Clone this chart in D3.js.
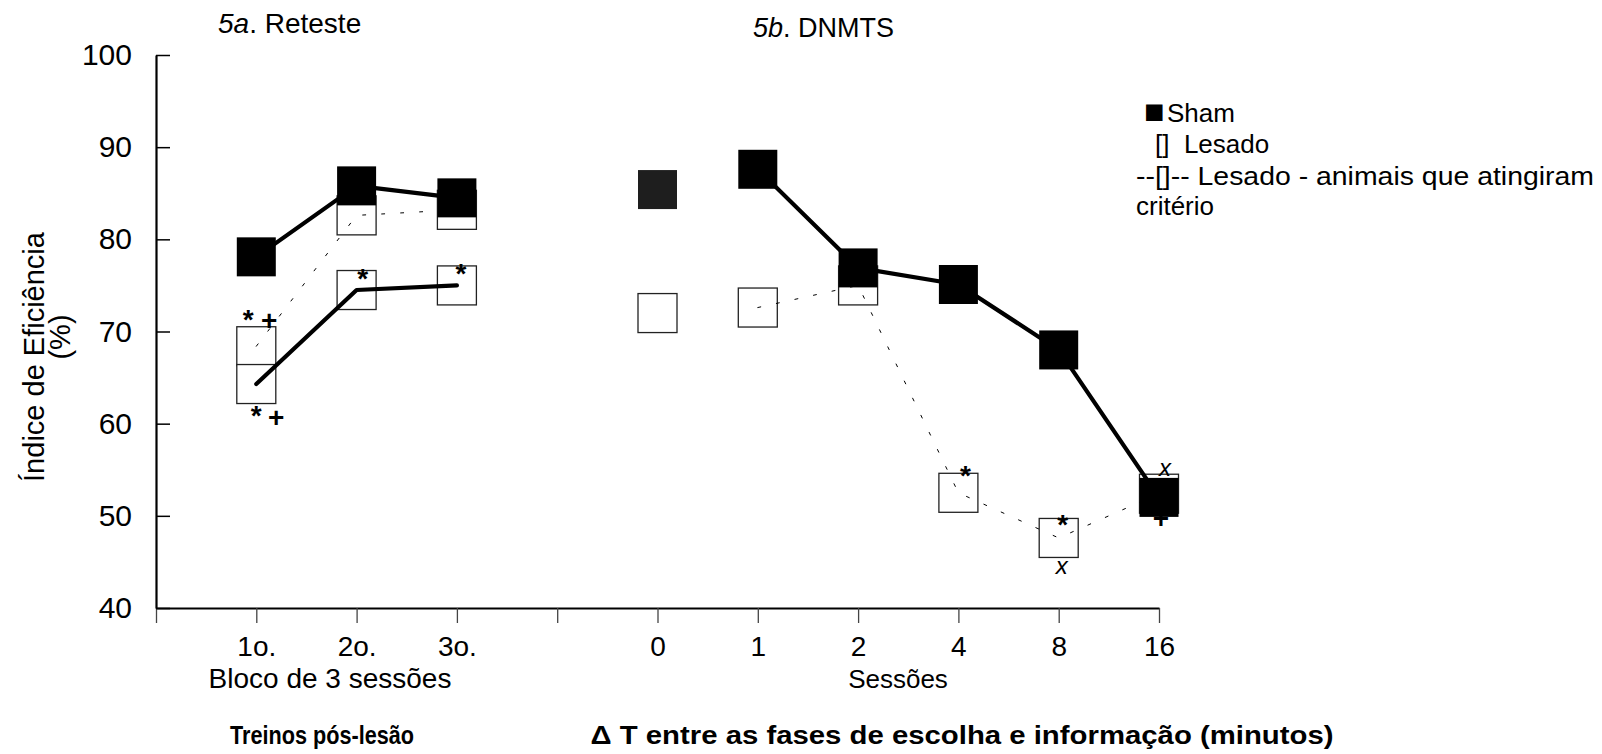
<!DOCTYPE html>
<html>
<head>
<meta charset="utf-8">
<script src="https://cdn.jsdelivr.net/npm/d3@7"></script>
<style>
  body { margin: 0; background: #fff; }
  svg { display: block; font-family: "Liberation Sans", Arial, Helvetica, sans-serif; }
</style>
</head>
<body>
<svg id="chart" width="1602" height="754"></svg>
<script>
// Shared x slots: origin, three retest blocks, a gap, then the DNMTS delays
const xSlots = ["origin", "1o.", "2o.", "3o.", "gap", "0", "1", "2", "4", "8", "16"];
const xTickLabels = ["", "1o.", "2o.", "3o.", "", "0", "1", "2", "4", "8", "16"];
const yTicks = [40, 50, 60, 70, 80, 90, 100];

// 5a. Reteste — efficiency index (%) per block of 3 sessions
const blocks = ["1o.", "2o.", "3o."];
const shamRetest = [78.1, 85.8, 84.5];
const lesadoRetest = [64.3, 74.5, 75.0];
const criterioRetest = [68.4, 82.6, 83.2];

// 5b. DNMTS — efficiency index (%) per delay (minutes)
const delays = ["0", "1", "2", "4", "8", "16"];
const shamDnmts = [85.4, 87.6, 76.9, 75.1, 68.0, 52.0];
const lesadoDnmts = [72.0, 72.6, 75.0, 52.5, 47.6, 52.4];

const legendSymbol = "■";
const legendLines = ["Sham", "[]  Lesado", "--[]-- Lesado - animais que atingiram", "critério"];

const svg = d3.select("#chart");
const SQ = 39;

const x = d3.scalePoint().domain(xSlots).range([156, 1159]);
const y = d3.scaleLinear().domain([40, 100]).range([608, 55]);

const pts = (slots, vals) => slots.map((s, i) => ({ slot: s, v: vals[i] }));

// ---- axes ----
const xAxis = svg.append("g")
  .attr("transform", `translate(0,${y(40)})`)
  .call(d3.axisBottom(x).tickSize(15).tickSizeOuter(0).tickPadding(13)
    .tickFormat((d, i) => xTickLabels[i]));
xAxis.select(".domain").attr("stroke", "#000").attr("stroke-width", 2.2);
xAxis.selectAll(".tick line").attr("stroke", "#444").attr("stroke-width", 1.3);
xAxis.selectAll(".tick text").attr("font-size", 28).attr("fill", "#000")
  .attr("font-family", "Liberation Sans, Arial, sans-serif");

const yAxis = svg.append("g")
  .attr("transform", `translate(${x("origin")},0)`)
  .call(d3.axisLeft(y).tickValues(yTicks).tickSize(-14).tickSizeOuter(0).tickPadding(24));
yAxis.select(".domain").attr("stroke", "#000").attr("stroke-width", 2.2);
yAxis.selectAll(".tick line").attr("stroke", "#000").attr("stroke-width", 1.5);
yAxis.selectAll(".tick text").attr("font-size", 30).attr("fill", "#000")
  .attr("font-family", "Liberation Sans, Arial, sans-serif");

// ---- plotting helpers ----
const line = d3.line().x(d => x(d.slot)).y(d => y(d.v));
const plot = svg.append("g");

function drawSquares(data, fill, stroke) {
  plot.append("g").selectAll("rect").data(data).join("rect")
    .attr("x", d => x(d.slot) - SQ / 2)
    .attr("y", d => y(d.v) - SQ / 2)
    .attr("width", SQ).attr("height", SQ)
    .attr("fill", fill)
    .attr("stroke", stroke)
    .attr("stroke-width", stroke === "none" ? 0 : 1.3);
}
function drawLine(data, width, dash) {
  plot.append("path").datum(data)
    .attr("d", line)
    .attr("fill", "none")
    .attr("stroke", "#000")
    .attr("stroke-width", width)
    .attr("stroke-linejoin", "round")
    .attr("stroke-linecap", "round")
    .attr("stroke-dasharray", dash || null);
}
function note(text, slot, value, dx, dy, size, italic) {
  plot.append("text")
    .attr("x", x(slot) + dx)
    .attr("y", y(value) + dy)
    .attr("text-anchor", "middle")
    .attr("font-size", size)
    .attr("font-weight", italic ? "normal" : "bold")
    .attr("font-style", italic ? "italic" : "normal")
    .text(text);
}

const retCrit = pts(blocks, criterioRetest);
const retLes = pts(blocks, lesadoRetest);
const retSham = pts(blocks, shamRetest);
const dnLes = pts(delays, lesadoDnmts);
const dnSham = pts(delays, shamDnmts);

// open squares (lesioned groups)
drawSquares(retCrit, "#fff", "#222");
drawSquares(retLes, "#fff", "#222");
drawSquares(dnLes, "#fff", "#222");

// connecting lines
drawLine(retCrit, 1, "3,16");
drawLine(retLes, 4.2);
drawLine(dnLes.slice(1), 1, "3,16");
drawLine(retSham, 4.2);
drawLine(dnSham.slice(1), 4.2);

// mark partly hidden beneath the last sham square
note("+", "16", shamDnmts[5], 2, 31, 28, false);

// sham squares on top
drawSquares(retSham, "#000", "none");
drawSquares(dnSham.slice(0, 1), "#1e1e1e", "none");
drawSquares(dnSham.slice(1), "#000", "none");

// significance marks
note("*", "1o.", criterioRetest[0], -8, -17, 28, false);
note("+", "1o.", criterioRetest[0], 13, -16, 28, false);
note("*", "1o.", lesadoRetest[0], 0, 41, 28, false);
note("+", "1o.", lesadoRetest[0], 20, 43, 28, false);
note("*", "2o.", lesadoRetest[1], 6, -2, 28, false);
note("*", "3o.", lesadoRetest[2], 4, -2, 28, false);
note("*", "4", lesadoDnmts[3], 7, -8, 28, false);
note("*", "8", lesadoDnmts[4], 4, -4, 28, false);
note("x", "8", lesadoDnmts[4], 3, 36, 24, true);
note("x", "16", lesadoDnmts[5], 6, -18, 24, true);

// ---- panel titles ----
const t1 = svg.append("text").attr("x", 218).attr("y", 33).attr("font-size", 28);
t1.append("tspan").attr("font-style", "italic").text("5a");
t1.append("tspan").text(". Reteste");
const t2 = svg.append("text").attr("x", 753).attr("y", 37).attr("font-size", 27);
t2.append("tspan").attr("font-style", "italic").text("5b");
t2.append("tspan").text(". DNMTS");

// ---- axis titles ----
svg.append("text")
  .attr("transform", "translate(44,357) rotate(-90)")
  .attr("text-anchor", "middle").attr("font-size", 29)
  .text("Índice de Eficiência");
svg.append("text")
  .attr("transform", "translate(70,337) rotate(-90)")
  .attr("text-anchor", "middle").attr("font-size", 29)
  .text("(%)");

svg.append("text").attr("x", 330).attr("y", 688)
  .attr("text-anchor", "middle").attr("font-size", 28)
  .text("Bloco de 3 sessões");
svg.append("text").attr("x", 898).attr("y", 688)
  .attr("text-anchor", "middle").attr("font-size", 26)
  .text("Sessões");

svg.append("text").attr("x", 322).attr("y", 744)
  .attr("text-anchor", "middle").attr("font-size", 25).attr("font-weight", "bold")
  .attr("textLength", 184).attr("lengthAdjust", "spacingAndGlyphs")
  .text("Treinos pós-lesão");
svg.append("text").attr("x", 962).attr("y", 744)
  .attr("text-anchor", "middle").attr("font-size", 25).attr("font-weight", "bold")
  .attr("textLength", 743).attr("lengthAdjust", "spacingAndGlyphs")
  .text("Δ T entre as fases de escolha e informação (minutos)");

// ---- legend ----
const legendX = [1167, 1155, 1136, 1136];
const legendY = [122, 153, 185, 215];
const legendLen = [null, null, 458, null];
svg.append("text").attr("x", 1144).attr("y", 123).attr("font-size", 34).text(legendSymbol);
svg.append("g").selectAll("text").data(legendLines).join("text")
  .attr("x", (d, i) => legendX[i])
  .attr("y", (d, i) => legendY[i])
  .attr("font-size", 26)
  .attr("textLength", (d, i) => legendLen[i])
  .attr("lengthAdjust", "spacingAndGlyphs")
  .style("white-space", "pre")
  .text(d => d);
</script>
</body>
</html>
